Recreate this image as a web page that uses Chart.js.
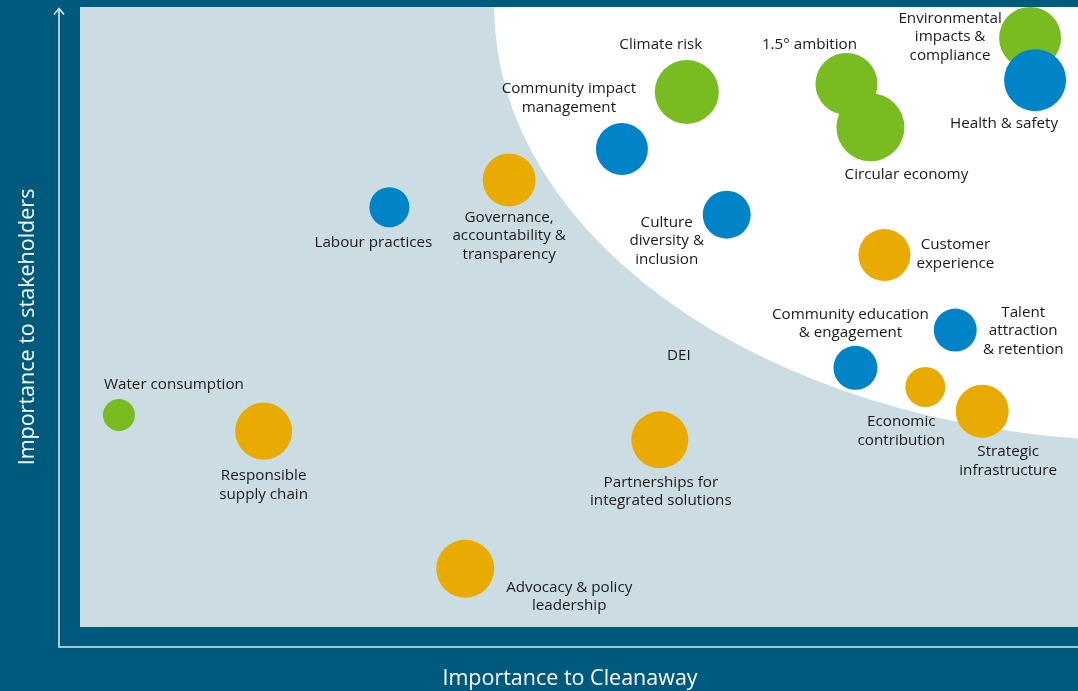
<!DOCTYPE html>
<html>
<head>
<meta charset="utf-8">
<title>Materiality matrix</title>
<script src="https://cdn.jsdelivr.net/npm/chart.js@4.4.1/dist/chart.umd.min.js"></script>
<style>
    html, body { margin: 0; padding: 0; background: #005a7d; }
    .chart-wrap { position: relative; width: 1078px; height: 691px; }
</style>
</head>
<body>
<div class="chart-wrap"><canvas id="materialityChart"></canvas></div>
<script>
// Material topics (0-100 on both axes)
const topics = [
    'Environmental\nimpacts &\ncompliance', 'Health & safety', '1.5° ambition', 'Circular economy',
    'Climate risk', 'Community impact\nmanagement', 'Governance,\naccountability &\ntransparency',
    'Labour practices', 'Culture\ndiversity &\ninclusion', 'Customer\nexperience',
    'Community education\n& engagement', 'Talent\nattraction\n& retention', 'DEI',
    'Economic\ncontribution', 'Strategic\ninfrastructure', 'Water consumption',
    'Responsible\nsupply chain', 'Partnerships for\nintegrated solutions', 'Advocacy & policy\nleadership'
];
const importanceToCleanaway = [95.2, 95.7, 76.8, 79.2, 60.8, 54.3, 43.0, 31.0, 64.8, 80.6, 77.7, 87.7, 60.0, 84.7, 90.4, 3.9, 18.4, 58.1, 38.6];
const importanceToStakeholders = [95.0, 88.2, 87.6, 80.6, 86.3, 77.1, 72.1, 67.7, 66.5, 60.0, 41.8, 47.9, 44.0, 38.7, 34.8, 34.2, 31.6, 30.2, 9.4];
const bubbleSize = [31, 31, 31, 34, 32, 26, 26.5, 20, 24, 26, 22, 21.5, 0, 20, 26.5, 16, 28.5, 28.5, 29];
const theme = ['env', 'people', 'env', 'env', 'env', 'people', 'business', 'people', 'people', 'business',
    'people', 'people', 'people', 'business', 'business', 'env', 'business', 'business', 'business'];

const themeColors = { env: '#78bc22', people: '#0084c8', business: '#e9ab02' };

// label block centre, offset from bubble centre (px)
const labelOffsets = [
    [-80, -1], [-31, 44], [-37, -39], [36, 47], [-26, -47], [-53, -51], [0, 56],
    [-16, 35], [-60, 26], [71, -1], [-5, -44], [68, 1], [0, 1], [-24, 44],
    [26, 50], [55, -30], [0, 54], [1, 52], [104, 28]
];

// white "high materiality" zone, ellipse in axis units
const zoneCentre = [107.2, 100];
const zoneRadius = [65.7, 70];

const FONT = '"Open Sans", "Noto Sans", sans-serif';

const backgroundPlugin = {
    id: 'matrixBackground',
    beforeDatasetsDraw(chart) {
        const { ctx, chartArea: a, scales: { x, y } } = chart;
        ctx.save();
        ctx.fillStyle = '#cbdde3';
        ctx.fillRect(a.left, a.top, a.right - a.left, a.bottom - a.top);

        // high materiality zone
        ctx.beginPath();
        ctx.rect(a.left, a.top, a.right - a.left, a.bottom - a.top);
        ctx.clip();
        const cx = x.getPixelForValue(zoneCentre[0]);
        const cy = y.getPixelForValue(zoneCentre[1]);
        const rx = cx - x.getPixelForValue(zoneCentre[0] - zoneRadius[0]);
        const ry = y.getPixelForValue(zoneCentre[1] - zoneRadius[1]) - cy;
        ctx.beginPath();
        ctx.ellipse(cx, cy, rx, ry, 0, 0, Math.PI * 2);
        ctx.fillStyle = '#ffffff';
        ctx.fill();
        ctx.restore();
    },
    afterDraw(chart) {
        const { ctx, chartArea: a } = chart;
        const axisX = a.left - 21;
        const axisY = a.bottom + 20;
        ctx.save();
        ctx.strokeStyle = '#dbe6eb';
        ctx.lineWidth = 1.6;
        ctx.beginPath();
        ctx.moveTo(axisX, a.top + 1);
        ctx.lineTo(axisX, axisY);
        ctx.lineTo(chart.width, axisY);
        ctx.stroke();
        // arrow head on the y axis
        ctx.beginPath();
        ctx.moveTo(axisX - 5, a.top + 7.5);
        ctx.lineTo(axisX, a.top + 1.5);
        ctx.lineTo(axisX + 5, a.top + 7.5);
        ctx.stroke();

        // axis titles
        ctx.fillStyle = '#ffffff';
        ctx.font = '21.5px ' + FONT;
        ctx.textAlign = 'center';
        ctx.textBaseline = 'middle';
        ctx.fillText('Importance to Cleanaway', 570, chart.height - 12);
        ctx.translate(28, (a.top + a.bottom) / 2 + 10);
        ctx.rotate(-Math.PI / 2);
        ctx.fillText('Importance to stakeholders', 0, 0);
        ctx.restore();
    }
};

const labelPlugin = {
    id: 'topicLabels',
    afterDatasetsDraw(chart) {
        const { ctx } = chart;
        const meta = chart.getDatasetMeta(0);
        const lineHeight = 18.5;
        ctx.save();
        ctx.fillStyle = '#1c1a1b';
        ctx.font = '15.2px ' + FONT;
        ctx.textAlign = 'center';
        ctx.textBaseline = 'middle';
        meta.data.forEach((pt, i) => {
            const lines = topics[i].split('\n');
            const cx = pt.x + labelOffsets[i][0];
            const cy = pt.y + labelOffsets[i][1];
            const top = cy - (lines.length - 1) * lineHeight / 2;
            lines.forEach((line, j) => ctx.fillText(line, cx, top + j * lineHeight));
        });
        ctx.restore();
    }
};

const bubbles = importanceToCleanaway.map((v, i) => ({
    x: v,
    y: importanceToStakeholders[i],
    r: bubbleSize[i]
}));

new Chart(document.getElementById('materialityChart'), {
    type: 'bubble',
    data: {
        labels: topics,
        datasets: [{
            data: bubbles,
            backgroundColor: theme.map(t => themeColors[t]),
            borderWidth: 0,
            hoverBorderWidth: 0
        }]
    },
    options: {
        responsive: true,
        maintainAspectRatio: false,
        animation: false,
        layout: {
            autoPadding: false,
            padding: { left: 80, top: 7, bottom: 64, right: 0 }
        },
        plugins: {
            legend: { display: false },
            tooltip: { enabled: false }
        },
        scales: {
            x: { display: false, min: 0, max: 100 },
            y: { display: false, min: 0, max: 100 }
        }
    },
    plugins: [backgroundPlugin, labelPlugin]
});
</script>
</body>
</html>
